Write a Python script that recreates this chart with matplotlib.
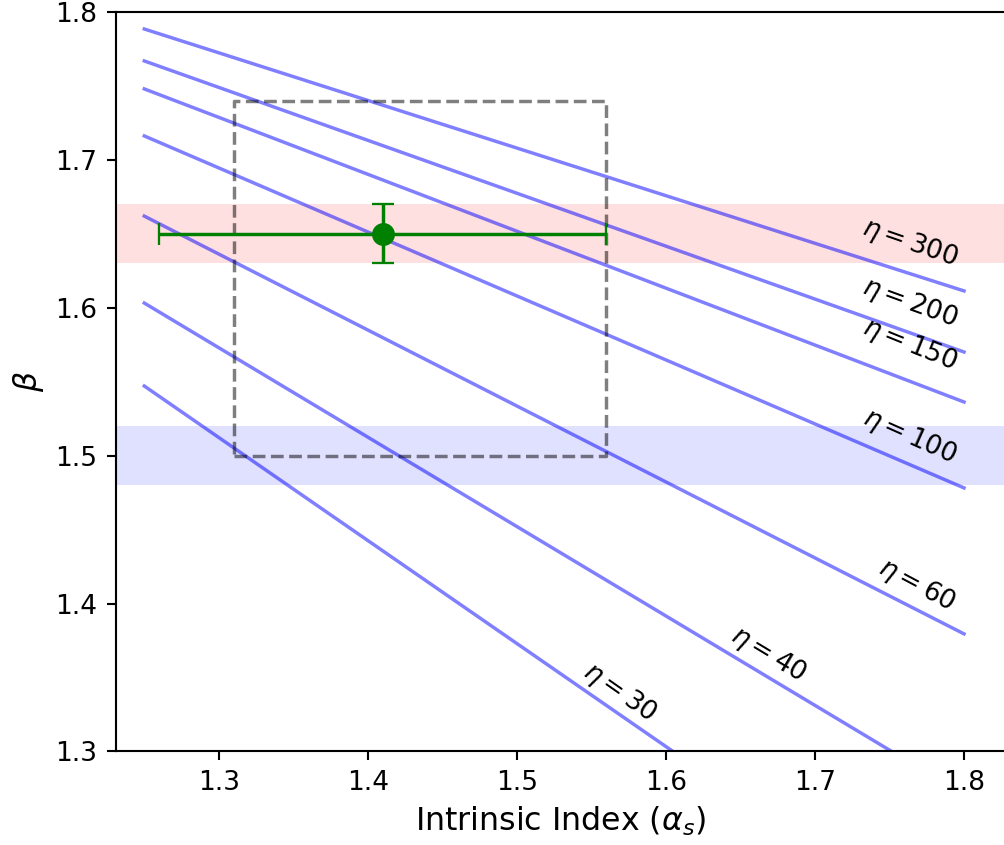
import matplotlib
matplotlib.use('Agg')
import matplotlib.pyplot as plt

# eta contour lines: (alpha, beta) at both ends
etas = [300, 200, 150, 100, 60, 40, 30]
alpha_ends = [1.25, 1.8]
beta_start = [1.7885, 1.7669, 1.748, 1.7162, 1.662, 1.6032, 1.5471]
beta_end = [1.6114, 1.5701, 1.5363, 1.4782, 1.3795, 1.2707, 1.164]

# label positions and rotations
label_x = [1.7638, 1.7638, 1.7638, 1.7638, 1.7685, 1.6685, 1.5691]
label_y = [1.6438, 1.6033, 1.5749, 1.5126, 1.4126, 1.3653, 1.3402]
label_rot = [-19, -20, -22, -24, -28, -31, -35]

# measurement
alpha_obs, beta_obs = 1.41, 1.65
alpha_err, beta_err = 0.15, 0.02

# bands and box
red_band = (1.63, 1.67)
blue_band = (1.48, 1.52)
box_x = (1.31, 1.56)
box_y = (1.50, 1.74)

dpi = 165
s = 1.15
plt.rcParams['xtick.major.size'] = 3.5 * s
plt.rcParams['ytick.major.size'] = 3.5 * s
plt.rcParams['xtick.major.pad'] = 3.5 * s
plt.rcParams['ytick.major.pad'] = 3.5 * s
plt.rcParams['axes.linewidth'] = 0.8 * s
plt.rcParams['xtick.major.width'] = 0.8 * s
plt.rcParams['ytick.major.width'] = 0.8 * s

fig = plt.figure(figsize=(1004 / dpi, 845 / dpi), dpi=dpi)
ax = fig.add_axes([0.1155, 0.1107, 0.8855, 0.8751])

for i in range(len(etas)):
    ax.plot(alpha_ends, [beta_start[i], beta_end[i]], color='blue', alpha=0.5, lw=1.5)
    ax.text(label_x[i], label_y[i], r'$\eta = %d$' % etas[i], rotation=label_rot[i],
            ha='center', va='center', fontsize=10 * s, rotation_mode='anchor')

ax.axhspan(red_band[0], red_band[1], color='red', alpha=0.12, lw=0)
ax.axhspan(blue_band[0], blue_band[1], color='blue', alpha=0.12, lw=0)

ax.plot([box_x[0], box_x[1], box_x[1], box_x[0], box_x[0]],
        [box_y[0], box_y[0], box_y[1], box_y[1], box_y[0]],
        'k--', alpha=0.5, lw=1.5)

ax.errorbar(alpha_obs, beta_obs, xerr=alpha_err, yerr=beta_err, fmt='o',
            color='green', markersize=9, capsize=5, lw=1.5)

ax.set_xlim(1.231, 1.8275)
ax.set_ylim(1.3, 1.8)
ax.set_xticks([1.3, 1.4, 1.5, 1.6, 1.7, 1.8])
ax.set_yticks([1.3, 1.4, 1.5, 1.6, 1.7, 1.8])
ax.tick_params(labelsize=10 * s)
ax.set_xlabel(r'Intrinsic Index ($\alpha_s$)', fontsize=12 * s)
ax.set_ylabel(r'$\beta$', fontsize=12 * s)

fig.savefig('out.png', dpi=dpi)
